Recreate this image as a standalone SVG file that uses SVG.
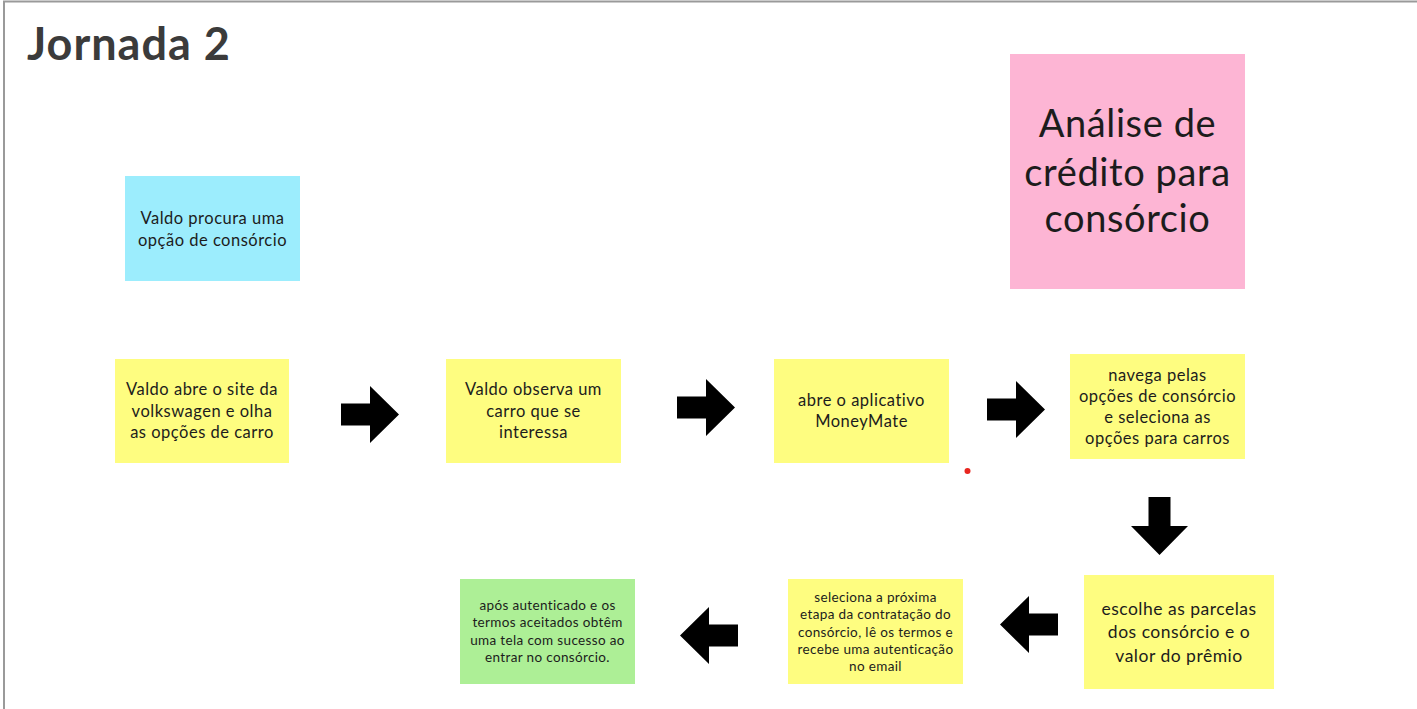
<svg xmlns="http://www.w3.org/2000/svg" width="1417" height="709" viewBox="0 0 1417 709">
<defs>
<style>
.t{font-family:Lato,"Noto Sans","Liberation Sans",sans-serif;fill:#1c1c1c;text-anchor:middle}
.s16{font-size:16.5px;letter-spacing:0.5px}
.s13{font-size:13.5px;letter-spacing:0.35px}
.s17{font-size:17.5px;letter-spacing:0.5px}
.s38{font-size:38px;letter-spacing:0.6px}
.arr{fill:#000}
</style>
<path id="ar" d="M0,17.5 H29 V0 L58,28.5 L29,57 V39.5 H0 Z"/>
</defs>
<rect width="1417" height="709" fill="#fff"/>
<path d="M4,709 V1.5 H1417" fill="none" stroke="#9a9a9a" stroke-width="2"/>
<text x="27" y="60" style="font-family:Lato,'Noto Sans','Liberation Sans',sans-serif;font-size:45px;font-weight:bold;letter-spacing:1px;fill:#3b3b3b">Jornada 2</text>

<g id="n-cyan">
<rect x="125" y="176" width="175" height="105" fill="#9cedfd"/>
<text class="t s16"><tspan x="212.5" y="224">Valdo procura uma</tspan><tspan x="212.5" y="246">opção de consórcio</tspan></text>
</g>
<g id="n-pink">
<rect x="1010" y="54" width="235" height="235" fill="#fdb5d4"/>
<text class="t s38"><tspan x="1127.5" y="137">Análise de</tspan><tspan x="1127.5" y="186">crédito para</tspan><tspan x="1127.5" y="232">consórcio</tspan></text>
</g>
<g id="n1">
<rect x="115" y="359" width="174" height="104" fill="#fefd80"/>
<text class="t s16"><tspan x="202" y="395">Valdo abre o site da</tspan><tspan x="202" y="417">volkswagen e olha</tspan><tspan x="202" y="438">as opções de carro</tspan></text>
</g>
<g id="n2">
<rect x="446" y="359" width="175" height="104" fill="#fefd80"/>
<text class="t s16"><tspan x="533.5" y="395">Valdo observa um</tspan><tspan x="533.5" y="417">carro que se</tspan><tspan x="533.5" y="438">interessa</tspan></text>
</g>
<g id="n3">
<rect x="774" y="359" width="175" height="104" fill="#fefd80"/>
<text class="t s16"><tspan x="861.5" y="406">abre o aplicativo</tspan><tspan x="861.5" y="427">MoneyMate</tspan></text>
</g>
<g id="n4">
<rect x="1070" y="354" width="175" height="105" fill="#fefd80"/>
<text class="t s16"><tspan x="1157.5" y="381">navega pelas</tspan><tspan x="1157.5" y="402">opções de consórcio</tspan><tspan x="1157.5" y="423">e seleciona as</tspan><tspan x="1157.5" y="444">opções para carros</tspan></text>
</g>
<g id="n5">
<rect x="1084" y="575" width="190" height="114" fill="#fefd80"/>
<text class="t s17"><tspan x="1179" y="615">escolhe as parcelas</tspan><tspan x="1179" y="638">dos consórcio e o</tspan><tspan x="1179" y="662">valor do prêmio</tspan></text>
</g>
<g id="n6">
<rect x="788" y="579" width="175" height="105" fill="#fefd80"/>
<text class="t s13"><tspan x="875.5" y="602">seleciona a próxima</tspan><tspan x="875.5" y="619">etapa da contratação do</tspan><tspan x="875.5" y="637">consórcio, lê os termos e</tspan><tspan x="875.5" y="654">recebe uma autenticação</tspan><tspan x="875.5" y="671">no email</tspan></text>
</g>
<g id="n7">
<rect x="460" y="579" width="175" height="105" fill="#adef96"/>
<text class="t s13"><tspan x="547.5" y="610">após autenticado e os</tspan><tspan x="547.5" y="627">termos aceitados obtêm</tspan><tspan x="547.5" y="645">uma tela com sucesso ao</tspan><tspan x="547.5" y="662">entrar no consórcio.</tspan></text>
</g>

<g id="connectors" class="arr">
<use href="#ar" x="341" y="386"/>
<use href="#ar" x="677" y="379"/>
<use href="#ar" x="987" y="381"/>
<use href="#ar" transform="translate(1188,497) rotate(90)"/>
<use href="#ar" transform="translate(1058,653) rotate(180)"/>
<use href="#ar" transform="translate(738,664) rotate(180)"/>
</g>
<circle cx="967.5" cy="471" r="3" fill="#e8261f"/>
</svg>
